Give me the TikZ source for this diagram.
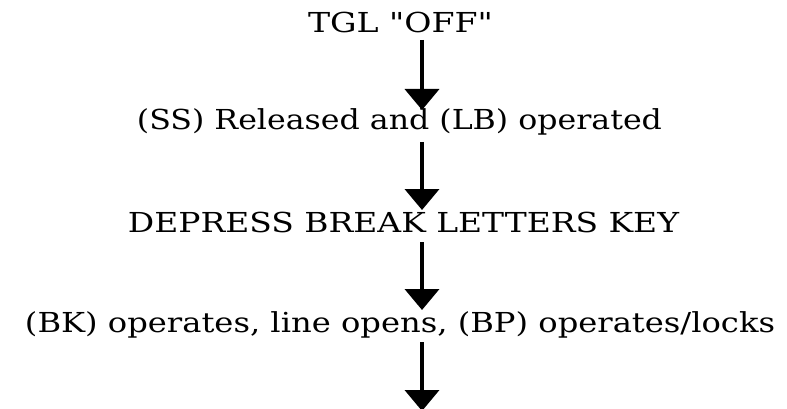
\documentclass[tikz,border=0pt]{standalone}
\usepackage{fontspec}
\setmainfont{DejaVu Serif}[Ligatures=TeXOff]
\usetikzlibrary{arrows.meta}
\begin{document}
\begin{tikzpicture}[x=1pt,y=-1pt,
  steptext/.style={anchor=base,inner sep=0pt,font=\fontsize{27.5}{32}\selectfont},
  flow/.style={line width=4pt,-{Triangle[length=21pt,width=34pt]}}]
\useasboundingbox (0,0) rectangle (787,409);

% sequence of steps (widths set to the typed line lengths)
\node[steptext] (s1) at (400.5,32.5) {\resizebox{185pt}{\height}{TGL "OFF"}};
\node[steptext] (s2) at (399.5,129.5) {\resizebox{525pt}{\height}{(SS) Released and (LB) operated}};
\node[steptext] (s3) at (403.5,232) {\resizebox{551pt}{\height}{DEPRESS BREAK LETTERS KEY}};
\node[steptext] (s4) at (400,332) {\resizebox{750pt}{\height}{(BK) operates, line opens, (BP) operates/locks}};

% arrow ends
\coordinate (a1s) at (422,40);   \coordinate (a1e) at (422,110);
\coordinate (a2s) at (422,142);  \coordinate (a2e) at (422,210);
\coordinate (a3s) at (422,242);  \coordinate (a3e) at (422,310);
\coordinate (a4s) at (422,342);  \coordinate (a4e) at (422,411);

\draw[flow] (a1s) -- (a1e);
\draw[flow] (a2s) -- (a2e);
\draw[flow] (a3s) -- (a3e);
\draw[flow] (a4s) -- (a4e);
\end{tikzpicture}
\end{document}
